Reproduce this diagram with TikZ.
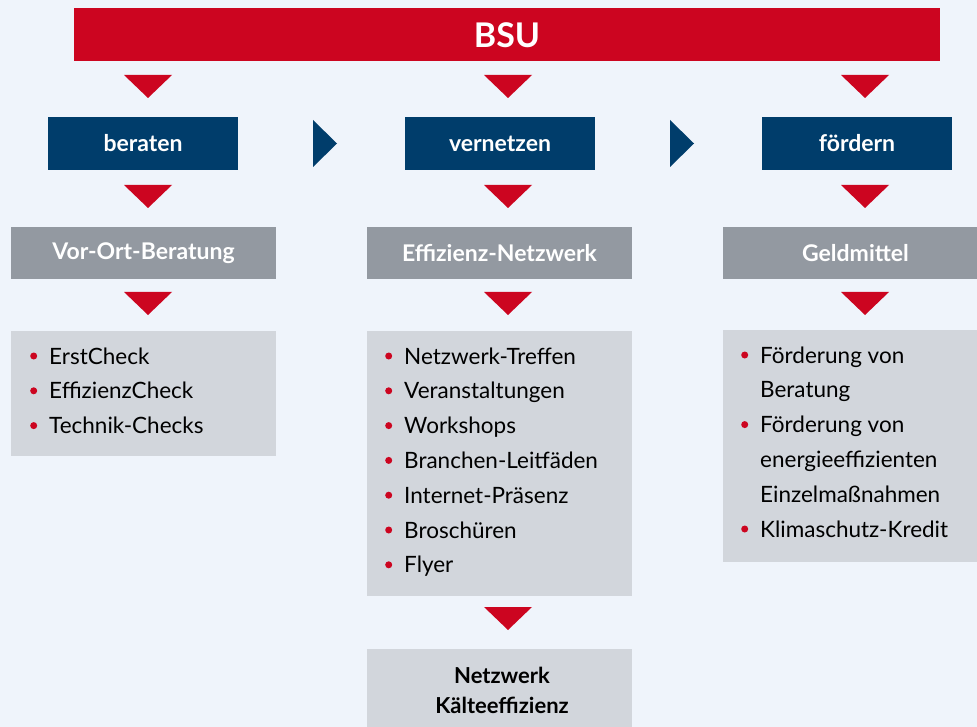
\documentclass[tikz,border=0pt]{standalone}
\usepackage{fontspec}
\setmainfont{Lato}
\usetikzlibrary{positioning}
\definecolor{bsurot}{HTML}{CC0520}
\definecolor{bsublau}{HTML}{003D6B}
\definecolor{kopfgrau}{HTML}{9399A1}
\definecolor{listgrau}{HTML}{D2D6DC}
\definecolor{hgrund}{HTML}{EFF4FB}
\tikzset{
  blaukasten/.style={fill=bsublau, text=white, inner sep=0pt, minimum width=190pt, minimum height=53pt,
    font=\bfseries\fontsize{23}{27}\selectfont},
  graukasten/.style={fill=kopfgrau, text=white, inner sep=0pt, minimum width=265pt, minimum height=52pt,
    font=\bfseries\fontsize{23}{27}\selectfont},
  listkasten/.style={fill=listgrau, inner sep=0pt, anchor=north west},
  listtext/.style={inner sep=0pt, anchor=base west, font=\fontsize{22.5}{34.8}\selectfont},
}
\newcommand{\punkt}{\tikz[baseline=-8pt]\fill[bsurot] (0pt,0pt) circle (3.5pt);}
\newcommand{\rotdreieck}[2]{\fill[bsurot] (#1-24,#2) -- (#1+24,#2) -- (#1,#2+23) -- cycle;}
\begin{document}
\begin{tikzpicture}[x=1pt,y=-1pt]
% Hintergrund:
\fill[hgrund] (0,0) rectangle (977,727);
\useasboundingbox (0,0) rectangle (977,727);
\clip (0,0) rectangle (977,727);
% Kopfzeile:
\node[fill=bsurot, text=white, inner sep=0pt, minimum width=866pt, minimum height=53pt,
  font=\bfseries\fontsize{34}{40}\selectfont] (bsu) at (507,35) {BSU};
\foreach \x in {148,508,865} {\rotdreieck{\x}{75}}
% Aufgaben:
\node[blaukasten] (berat) at (143,143.5) {beraten};
\node[blaukasten] (vernetz) at (500,143.5) {vernetzen};
\node[blaukasten] (foerder) at (857,143.5) {fördern};
\fill[bsublau] (313,120) -- (337,143.5) -- (313,167) -- cycle;
\fill[bsublau] (670,120) -- (694,143.5) -- (670,167) -- cycle;
\foreach \x in {148,508,865} {\rotdreieck{\x}{185}}
% Instrumente:
\node[graukasten] (vorort) at (143.5,253) {Vor-Ort-Beratung};
\node[graukasten] (netz) at (499.5,253) {Effizienz-Netzwerk};
\node[graukasten] (geld) at (855.5,253) {Geldmittel};
\foreach \x in {148,508,865} {\rotdreieck{\x}{292}}
% Listen:
\node[listkasten, minimum width=265pt, minimum height=125pt] (liste1) at (11,331) {};
\node[listkasten, minimum width=265pt, minimum height=265pt] (liste2) at (367,331) {};
\node[listkasten, minimum width=265pt, minimum height=232pt] (liste3) at (723,330) {};
\node[listtext] (punkte1) at (30,364) {\begin{tabular}[t]{@{}c@{\hspace{12pt}}l@{}}
  \punkt & ErstCheck\\ \punkt & EffizienzCheck\\ \punkt & Technik-Checks
\end{tabular}};
\node[listtext] (punkte2) at (385,364) {\begin{tabular}[t]{@{}c@{\hspace{12pt}}l@{}}
  \punkt & Netzwerk-Treffen\\ \punkt & Veranstaltungen\\ \punkt & Workshops\\
  \punkt & Branchen-Leitfäden\\ \punkt & Internet-Präsenz\\ \punkt & Broschüren\\ \punkt & Flyer
\end{tabular}};
\node[listtext] (punkte3) at (741,363) {\begin{tabular}[t]{@{}c@{\hspace{12pt}}l@{}}
  \punkt & Förderung von\\ & Beratung\\ \punkt & Förderung von\\ & energieeffizienten\\
  & Einzelmaßnahmen\\ \punkt & Klimaschutz-Kredit
\end{tabular}};
% Netzwerk:
\rotdreieck{508}{607}
\node[listkasten, minimum width=265pt, minimum height=100pt] (kaelte) at (367,649) {};
\node[align=center, inner sep=0pt, anchor=base, font=\bfseries\fontsize{22}{30}\selectfont]
  (kaeltetext) at (502,713) {Netzwerk\\Kälteeffizienz};
\end{tikzpicture}
\end{document}
